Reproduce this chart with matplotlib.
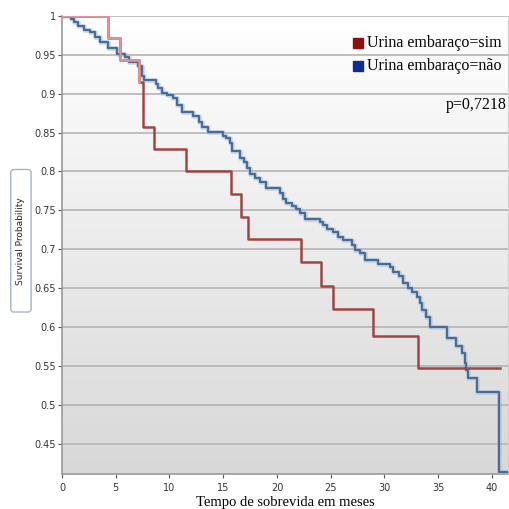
import numpy as np
import matplotlib
matplotlib.use("Agg")
import matplotlib.pyplot as plt
from matplotlib.patches import FancyBboxPatch

# survival steps, group "sim"
sim_t = [0, 4.3, 5.4, 7.2, 7.5, 8.6, 11.5, 15.7, 16.7, 17.3, 22.2, 24.1, 25.2, 28.9, 33.1]
sim_s = [1.0, 0.972, 0.943, 0.915, 0.857, 0.829, 0.800, 0.771, 0.742, 0.713, 0.683, 0.653, 0.623, 0.589, 0.547]
sim_end = 40.8

# survival steps, group "nao"
nao_t = [0, 0.8, 1.1, 1.5, 2.0, 2.6, 3.1, 3.5, 4.3, 5.1, 5.9, 6.2, 7.1, 7.4, 7.6, 8.7, 8.9, 9.3,
         9.8, 10.3, 10.7, 11.2, 12.2, 12.7, 13.0, 13.6, 15.0, 15.3, 15.6, 15.8, 16.6, 16.9, 17.2,
         17.5, 18.0, 18.4, 19.0, 20.3, 20.6, 20.8, 21.4, 21.8, 22.1, 22.6, 24.0, 24.3, 24.7, 25.2,
         25.7, 26.1, 27.0, 27.3, 27.7, 28.2, 29.4, 30.5, 30.8, 31.4, 31.7, 32.2, 32.6, 33.0, 33.3,
         33.5, 33.9, 34.2, 35.8, 36.7, 37.2, 37.5, 37.6, 37.8, 38.6, 40.7]
nao_s = [1.0, 0.996, 0.992, 0.987, 0.982, 0.979, 0.973, 0.966, 0.959, 0.951, 0.947, 0.941, 0.936,
         0.923, 0.918, 0.912, 0.907, 0.901, 0.898, 0.894, 0.886, 0.877, 0.871, 0.864, 0.857, 0.851,
         0.846, 0.843, 0.837, 0.826, 0.818, 0.812, 0.805, 0.797, 0.792, 0.787, 0.779, 0.772, 0.765,
         0.760, 0.756, 0.752, 0.747, 0.739, 0.735, 0.731, 0.726, 0.722, 0.716, 0.712, 0.705, 0.699,
         0.695, 0.686, 0.681, 0.677, 0.671, 0.665, 0.657, 0.650, 0.645, 0.639, 0.631, 0.622, 0.613,
         0.600, 0.586, 0.575, 0.567, 0.554, 0.545, 0.535, 0.517, 0.413]
nao_end = 41.5

labels = ["Urina embaraço=sim", "Urina embaraço=não"]
p_text = "p=0,7218"
xticks = [0, 5, 10, 15, 20, 25, 30, 35, 40]
yticks = [0.45, 0.5, 0.55, 0.6, 0.65, 0.7, 0.75, 0.8, 0.85, 0.9, 0.95, 1]

fig = plt.figure(figsize=(5.10, 5.09), dpi=100)
ax = fig.add_axes([0.1216, 0.0688, 0.8745, 0.8998])
ax.set_xlim(0, 41.5)
ax.set_ylim(0.411, 1.0)

# gradient background
grad = np.linspace(1, 0, 256).reshape(-1, 1)
ax.imshow(grad, extent=[0, 1, 0, 1], transform=ax.transAxes, aspect="auto",
          cmap=matplotlib.colors.LinearSegmentedColormap.from_list("g", ["#d8d8d8", "#ffffff"]),
          zorder=0)

for y in yticks:
    ax.axhline(y, color="#b4b4b4", lw=1.2, zorder=1)

nx = nao_t + [nao_end]
ny = nao_s + [nao_s[-1]]
ax.step(nx, ny, where="post", color="#a9c3de", lw=3.4, alpha=0.6, zorder=3)
ax.step(nx, ny, where="post", color="#4a6c94", lw=1.6, zorder=3)

sx = sim_t + [sim_end]
sy = sim_s + [sim_s[-1]]
ax.step(sx, sy, where="post", color="#a04444", lw=1.8, zorder=4)
# lighter start of the sim curve
ax.step(sx[:4], sy[:4], where="post", color="#e49494", lw=1.8, zorder=4)

ax.set_xticks(xticks)
ax.set_yticks(yticks)
ax.set_yticklabels([("%g" % v) for v in yticks])
ax.tick_params(axis="both", labelsize=7, colors="#555555", labelcolor="#333333", length=3, width=0.8)
ax.tick_params(axis="y", pad=1.5)
for sp in ["left", "bottom"]:
    ax.spines[sp].set_color("#9a9a9a")
    ax.spines[sp].set_linewidth(1.2)
ax.spines["top"].set_visible(False)
ax.spines["right"].set_color("#d0d0d0")

ax.set_xlabel("Tempo de sobrevida em meses", family="Liberation Serif", fontsize=10.5, labelpad=2)

# legend and p value
ax.plot([0.663], [0.941], marker="s", ms=7, color="#8b1010", transform=ax.transAxes, clip_on=False)
ax.plot([0.663], [0.891], marker="s", ms=7, color="#102c8c", transform=ax.transAxes, clip_on=False)
ax.text(0.684, 0.941, labels[0], transform=ax.transAxes, family="Liberation Serif", fontsize=11.5,
        va="center", ha="left")
ax.text(0.684, 0.891, labels[1], transform=ax.transAxes, family="Liberation Serif", fontsize=11.5,
        va="center", ha="left")
ax.text(0.998, 0.806, p_text, transform=ax.transAxes, family="Liberation Serif", fontsize=11.5,
        va="center", ha="right")

# boxed y label
box = FancyBboxPatch((0.021, 0.387), 0.040, 0.28, boxstyle="round,pad=0,rounding_size=0.006",
                     transform=fig.transFigure, facecolor="white", edgecolor="#a8b4c4", lw=1.0)
fig.patches.append(box)
fig.text(0.041, 0.527, "Survival Probability", rotation=90, ha="center", va="center",
         fontsize=6.5, color="#222222", family="DejaVu Sans")

fig.savefig("out.png", dpi=100)
